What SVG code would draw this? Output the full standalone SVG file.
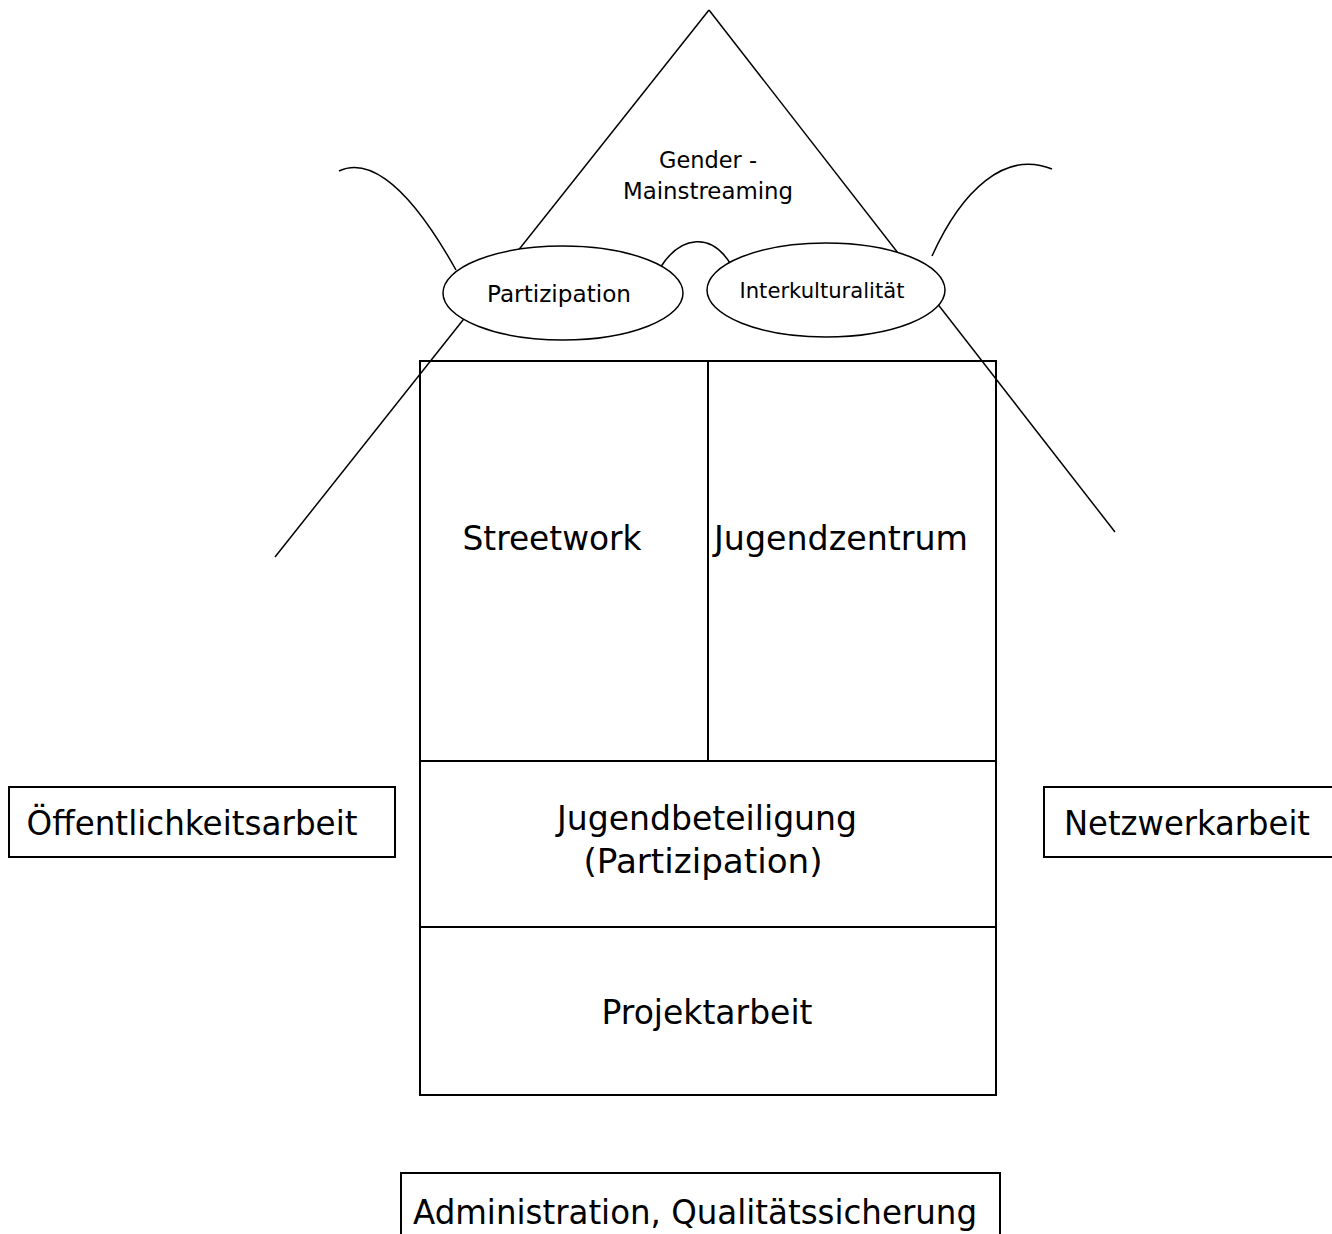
<svg xmlns="http://www.w3.org/2000/svg" width="1332" height="1234" viewBox="0 0 1332 1234">
<style>
.ln{fill:none;stroke:#000;stroke-width:1.5}
.bx{fill:none;stroke:#000;stroke-width:2}
.el{fill:#fff;stroke:#000;stroke-width:1.5}
text{font-family:"DejaVu Sans","Liberation Sans",sans-serif;fill:#000;text-anchor:middle}
.big{font-size:34px}
.sm{font-size:23px}
</style>
<rect width="1332" height="1234" fill="#fff"/>
<g id="connectors">
<line class="ln" x1="709" y1="10" x2="275" y2="557"/>
<line class="ln" x1="709" y1="10" x2="1115" y2="532"/>
<path class="ln" d="M339,171 C362,160 400,170 456,270"/>
<path class="ln" d="M932,256 C962,190 1005,150 1052,169"/>
<path class="ln" d="M660,268 C680,236 712,230 733,268"/>
</g>
<g id="gender">
<text class="sm" x="708" y="168" textLength="98" lengthAdjust="spacingAndGlyphs">Gender -</text>
<text class="sm" x="708" y="199" textLength="170" lengthAdjust="spacingAndGlyphs">Mainstreaming</text>
</g>
<g id="partizipation">
<ellipse class="el" cx="563" cy="293" rx="120" ry="47"/>
<text class="sm" x="559" y="302" textLength="144" lengthAdjust="spacingAndGlyphs">Partizipation</text>
</g>
<g id="interkulturalitaet">
<ellipse class="el" cx="826" cy="290" rx="119" ry="47"/>
<text class="sm" x="822" y="298" style="font-size:21px" textLength="165" lengthAdjust="spacingAndGlyphs">Interkulturalität</text>
</g>
<g id="streetwork">
<rect class="bx" x="420" y="361" width="288" height="400"/>
<text class="big" x="552" y="550" textLength="179" lengthAdjust="spacingAndGlyphs">Streetwork</text>
</g>
<g id="jugendzentrum">
<rect class="bx" x="708" y="361" width="288" height="400"/>
<text class="big" x="841" y="550" textLength="254" lengthAdjust="spacingAndGlyphs">Jugendzentrum</text>
</g>
<g id="jugendbeteiligung">
<rect class="bx" x="420" y="761" width="576" height="166"/>
<text class="big" x="707" y="830" textLength="300" lengthAdjust="spacingAndGlyphs">Jugendbeteiligung</text>
<text class="big" x="703" y="873" textLength="239" lengthAdjust="spacingAndGlyphs">(Partizipation)</text>
</g>
<g id="projektarbeit">
<rect class="bx" x="420" y="927" width="576" height="168"/>
<text class="big" x="707" y="1024" textLength="211" lengthAdjust="spacingAndGlyphs">Projektarbeit</text>
</g>
<g id="oeffentlichkeitsarbeit">
<rect class="bx" x="9" y="787" width="386" height="70"/>
<text class="big" x="192" y="835" textLength="331" lengthAdjust="spacingAndGlyphs">Öffentlichkeitsarbeit</text>
</g>
<g id="netzwerkarbeit">
<rect class="bx" x="1044" y="787" width="300" height="70"/>
<text class="big" x="1187" y="835" textLength="246" lengthAdjust="spacingAndGlyphs">Netzwerkarbeit</text>
</g>
<g id="administration">
<rect class="bx" x="401" y="1173" width="599" height="100"/>
<text class="big" x="695" y="1224" textLength="564" lengthAdjust="spacingAndGlyphs">Administration, Qualitätssicherung</text>
</g>
</svg>
